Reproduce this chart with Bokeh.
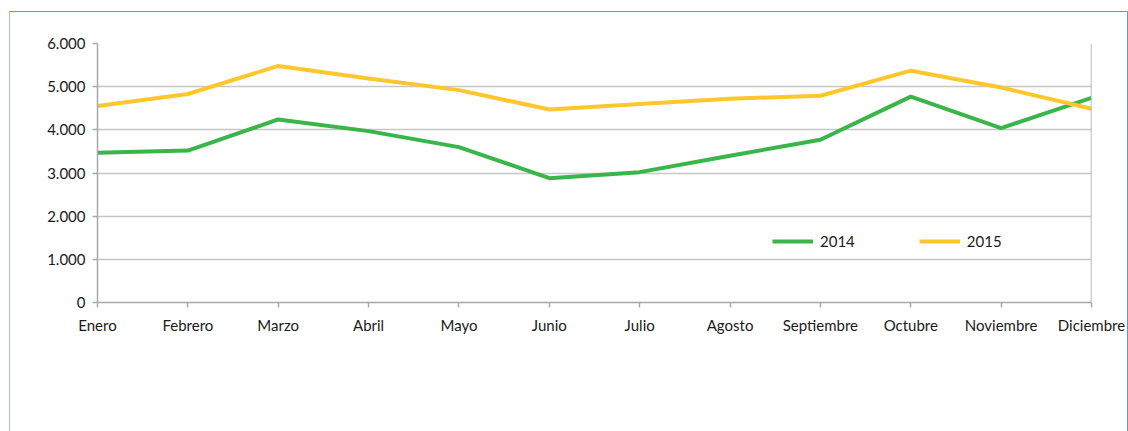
from bokeh.plotting import figure
from bokeh.models import Range1d, FixedTicker, Span, Legend, LegendItem, ColumnDataSource
from bokeh.embed import file_html
from bokeh.resources import INLINE

months = ["Enero", "Febrero", "Marzo", "Abril", "Mayo", "Junio", "Julio",
          "Agosto", "Septiembre", "Octubre", "Noviembre", "Diciembre"]
y2014 = [3470, 3520, 4240, 3970, 3600, 2880, 3020, 3400, 3770, 4770, 4040, 4740]
y2015 = [4550, 4830, 5480, 5190, 4920, 4470, 4600, 4720, 4790, 5370, 4980, 4490]
y_ticks = [0, 1000, 2000, 3000, 4000, 5000, 6000]
y_tick_labels = ["0", "1.000", "2.000", "3.000", "4.000", "5.000", "6.000"]

FONT = "Lato"
GREEN = "#3ab54a"
YELLOW = "#ffc72c"
FRAME = "#5f98c9"

x_idx = list(range(len(months)))
src = ColumnDataSource(dict(x=x_idx, a=y2014, b=y2015))

p = figure(width=1119, height=420, output_backend="svg", toolbar_location=None,
           x_range=Range1d(0, len(months) - 1), y_range=Range1d(0, 6000))
p.margin = (11, 0, 0, 9)
p.styles = {"border-top": "1px solid " + FRAME, "border-left": "1px solid #9fc2e0",
            "border-right": "1px solid " + FRAME}
p.min_border = 0
p.min_border_left = 87
p.min_border_right = 38
p.min_border_top = 31
p.min_border_bottom = 130
p.outline_line_color = None
p.background_fill_color = "white"
p.border_fill_color = "white"

# axes
p.xaxis.ticker = FixedTicker(ticks=x_idx)
p.xaxis.major_label_overrides = {i: m for i, m in zip(x_idx, months)}
p.yaxis.ticker = FixedTicker(ticks=y_ticks)
p.yaxis.major_label_overrides = {t: l for t, l in zip(y_ticks, y_tick_labels)}
for ax in (p.xaxis[0], p.yaxis[0]):
    ax.axis_line_color = "#a8a8a8"
    ax.axis_line_width = 1.5
    ax.major_tick_line_color = "#a8a8a8"
    ax.major_tick_line_width = 1.5
    ax.major_tick_out = 5
    ax.major_tick_in = 0
    ax.minor_tick_line_color = None
    ax.major_label_text_font = FONT
    ax.major_label_text_font_size = "15px"
    ax.major_label_text_color = "#1a1a1a"
p.xaxis.major_label_standoff = 8
p.yaxis.major_label_standoff = 7

p.xgrid.grid_line_color = None
p.ygrid.ticker = FixedTicker(ticks=y_ticks[1:])
p.ygrid.grid_line_color = "#c6c6c6"
p.ygrid.grid_line_width = 1.5

# right plot-area edge
p.add_layout(Span(location=len(months) - 1, dimension="height",
                  line_color="#a8a8a8", line_width=1.5))

r1 = p.line("x", "a", source=src, line_color=GREEN, line_width=4)
r2 = p.line("x", "b", source=src, line_color=YELLOW, line_width=4)

legend = Legend(items=[LegendItem(label="2014", renderers=[r1]),
                       LegendItem(label="2015", renderers=[r2])],
                orientation="horizontal", location=(675, 51),
                border_line_color=None, background_fill_alpha=0,
                padding=0, margin=0, spacing=64,
                glyph_width=41, glyph_height=20, label_standoff=7,
                label_text_font=FONT, label_text_font_size="15px",
                label_text_color="#1a1a1a")
p.add_layout(legend, "center")

open("out.html", "w").write(file_html(p, INLINE))
